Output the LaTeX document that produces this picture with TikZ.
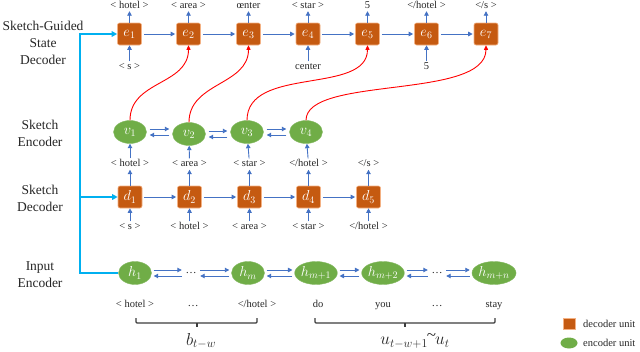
\documentclass[tikz,border=0pt]{standalone}
\usepackage{fontspec}
\setmainfont{Liberation Serif}
\usetikzlibrary{arrows.meta,shapes.geometric,calc}
\definecolor{decfill}{HTML}{C55A11}
\definecolor{decline}{HTML}{F4B183}
\definecolor{encfill}{HTML}{70AD47}
\definecolor{arrblue}{HTML}{4472C4}
\definecolor{buscyan}{HTML}{00B0F0}
\definecolor{txtgray}{HTML}{262626}
\begin{document}
\begin{tikzpicture}[x=1pt,y=-1pt,
  decbox/.style={rectangle,rounded corners=2pt,fill=decfill,draw=decline,line width=0.6pt,
    minimum width=24pt,minimum height=22pt,inner sep=0pt,text=white,font=\fontsize{14}{14}\selectfont},
  encell/.style={ellipse,fill=encfill,draw=encfill!85!white,line width=0.4pt,
    minimum width=33pt,minimum height=23pt,inner sep=0pt,text=white,font=\fontsize{14}{14}\selectfont},
  lbl/.style={inner sep=1pt,text height=7pt,text depth=2pt,text=txtgray,font=\fontsize{10.5}{11}\selectfont},
  dotsn/.style={inner sep=1.5pt,text=txtgray,font=\fontsize{11}{11}\selectfont},
  rowlbl/.style={align=center,text=txtgray,font=\fontsize{13.5}{17}\selectfont},
  barrow/.style={draw=arrblue,line width=0.9pt,-{Triangle[length=4.5pt,width=4.5pt]}},
  redarrow/.style={draw=red,line width=0.9pt,-{Triangle[length=4.5pt,width=4pt]}},
  busline/.style={draw=buscyan,line width=1.8pt},
  bracel/.style={draw=txtgray!90,line width=1.2pt,rounded corners=1pt},
  leglbl/.style={anchor=west,inner sep=0pt,text=txtgray,font=\fontsize{10.5}{11}\selectfont},
  bigmath/.style={text=txtgray,font=\fontsize{17}{17}\selectfont}
]
\useasboundingbox (0,0) rectangle (640,351);

% row labels
\node[rowlbl] (lab1) at (43,43) {Sketch-Guided\\State\\Decoder};
\node[rowlbl] (lab2) at (40,133) {Sketch\\Encoder};
\node[rowlbl] (lab3) at (40,198) {Sketch\\Decoder};
\node[rowlbl] (lab4) at (40,275) {Input\\Encoder};

% state decoder
\node[decbox] (e1) at (129.5,34) {$e_1$};
\node[decbox] (e2) at (188.5,34) {$e_2$};
\node[decbox] (e3) at (248.5,34) {$e_3$};
\node[decbox] (e4) at (308,34) {$e_4$};
\node[decbox] (e5) at (367.5,34) {$e_5$};
\node[decbox] (e6) at (426.5,34) {$e_6$};
\node[decbox] (e7) at (486,34) {$e_7$};

\node[lbl] (o1) at (129.5,5.5) {< hotel >};
\node[lbl] (o2) at (188.5,5.5) {< area >};
\node[lbl] (o3) at (248.5,5.5) {œnter};
\node[lbl] (o4) at (308,5.5) {< star >};
\node[lbl] (o5) at (367.5,5.5) {5};
\node[lbl] (o6) at (426.5,5.5) {</hotel >};
\node[lbl] (o7) at (486,5.5) {</s >};

\node[lbl] (i1) at (129.5,67) {< s >};
\node[lbl] (i4) at (308,67) {center};
\node[lbl] (i6) at (426.5,67) {5};

\foreach \n in {1,...,7} { \draw[barrow] (e\n) -- (o\n); }
\foreach \n in {1,4,6} { \draw[barrow] (i\n) -- (e\n); }
\foreach \a/\b in {e1/e2,e2/e3,e3/e4,e4/e5,e5/e6,e6/e7} {
  \draw[barrow,shorten <=2pt,shorten >=1pt] (\a) -- (\b); }

% sketch encoder
\node[encell] (v1) at (130,132) {$v_1$};
\node[encell] (v2) at (189,134) {$v_2$};
\node[encell] (v3) at (247,132) {$v_3$};
\node[encell] (v4) at (306,132) {$v_4$};
\foreach \a/\b in {v1/v2,v2/v3,v3/v4} {
  \draw[barrow] ($(\a.east)+(3,-3)$) -- ($(\a.east -| \b.west)+(-3,-3)$);
  \draw[barrow] ($(\a.east -| \b.west)+(-3,3)$) -- ($(\a.east)+(3,3)$);
}

% sketch decoder
\node[decbox] (d1) at (130,197) {$d_1$};
\node[decbox] (d2) at (189.5,197) {$d_2$};
\node[decbox] (d3) at (249.5,197) {$d_3$};
\node[decbox] (d4) at (308.5,197) {$d_4$};
\node[decbox] (d5) at (368.5,197) {$d_5$};

\node[lbl] (m1) at (130,164) {< hotel >};
\node[lbl] (m2) at (189.5,164) {< area >};
\node[lbl] (m3) at (249.5,164) {< star >};
\node[lbl] (m4) at (308.5,164) {</hotel >};
\node[lbl] (m5) at (368.5,164) {</s >};

\node[lbl] (b1) at (130,227) {< s >};
\node[lbl] (b2) at (189.5,227) {< hotel >};
\node[lbl] (b3) at (249.5,227) {< area >};
\node[lbl] (b4) at (308.5,227) {< star >};
\node[lbl] (b5) at (368.5,227) {</hotel >};

\foreach \n in {1,...,5} { \draw[barrow] (d\n) -- (m\n); \draw[barrow] (b\n) -- (d\n); }
\foreach \n in {1,...,4} { \draw[barrow] (m\n) -- (v\n); }
\foreach \a/\b in {d1/d2,d2/d3,d3/d4,d4/d5} {
  \draw[barrow,shorten <=2pt,shorten >=1pt] (\a) -- (\b); }

% red attention curves
\draw[redarrow] (v1.north) .. controls +(0,-40) and +(0,40) .. (e2.south);
\draw[redarrow] (v2.north) .. controls +(0,-40) and +(0,40) .. (e3.south);
\draw[redarrow] (v3.north) .. controls +(0,-55) and +(0,50) .. (e5.south);
\draw[redarrow] (v4.north) .. controls +(0,-45) and +(0,55) .. (e7.south);

% input encoder
\node[encell] (h1) at (135,273) {$h_1$};
\node[dotsn] (hd1) at (191,273) {…};
\node[encell] (hm) at (248,273) {$h_m$};
\node[encell] (hm1) at (316,273) {$h_{m+1}$};
\node[encell] (hm2) at (383,273) {$h_{m+2}$};
\node[dotsn] (hd2) at (437,273) {…};
\node[encell] (hmn) at (494,273) {$h_{m+n}$};
\foreach \a/\b in {h1/hd1,hd1/hm,hm/hm1,hm1/hm2,hm2/hd2,hd2/hmn} {
  \draw[barrow] ($(\a.east)+(2,-3)$) -- ($(\a.east -| \b.west)+(-2,-3)$);
  \draw[barrow] ($(\a.east -| \b.west)+(-2,3)$) -- ($(\a.east)+(2,3)$);
}

\node[lbl] (w1) at (135,305) {< hotel >};
\node[dotsn] (w2) at (193,306) {…};
\node[lbl] (w3) at (257,305) {</hotel >};
\node[lbl] (w4) at (318,305) {do};
\node[lbl] (w5) at (383,305) {you};
\node[dotsn] (w6) at (437,306) {…};
\node[lbl] (w7) at (494,305) {stay};

% braces (square style)
\coordinate (bLl) at (136,318);
\coordinate (bLr) at (257,318);
\coordinate (bLm) at (197,323);
\coordinate (bRl) at (315,318);
\coordinate (bRr) at (495,318);
\coordinate (bRm) at (405,323);
\draw[bracel] (bLl) -- ++(0,5) -- ($(bLr)+(0,5)$) -- (bLr);
\draw[bracel] (bLm) -- ++(0,4);
\draw[bracel] (bRl) -- ++(0,5) -- ($(bRr)+(0,5)$) -- (bRr);
\draw[bracel] (bRm) -- ++(0,4);
\node[bigmath] (bt) at (201,341) {$b_{t-w}$};
\node[bigmath] (ut) at (415,341)
  {$u_{t-w+1}$\hspace{-1pt}\raisebox{4pt}{\textasciitilde}\hspace{-1pt}$u_t$};

% left feed line
\coordinate (busT) at (80,34);
\coordinate (busD) at (80,197);
\draw[busline,{Triangle[length=5.5pt,width=5.5pt]}-] (e1.west) -- (busT) |- (h1.west);
\draw[busline,-{Triangle[length=5.5pt,width=5.5pt]}] (busD) -- (d1.west);

% legend
\node[rectangle,fill=decfill,draw=decline,line width=0.4pt,minimum width=12pt,minimum height=11pt,inner sep=0pt] (legd) at (569,324) {};
\node[leglbl] (legdt) at (583,324) {decoder unit};
\node[ellipse,fill=encfill,minimum width=17pt,minimum height=11pt,inner sep=0pt] (lege) at (569,343) {};
\node[leglbl] (leget) at (583,343) {encoder unit};
\end{tikzpicture}
\end{document}
